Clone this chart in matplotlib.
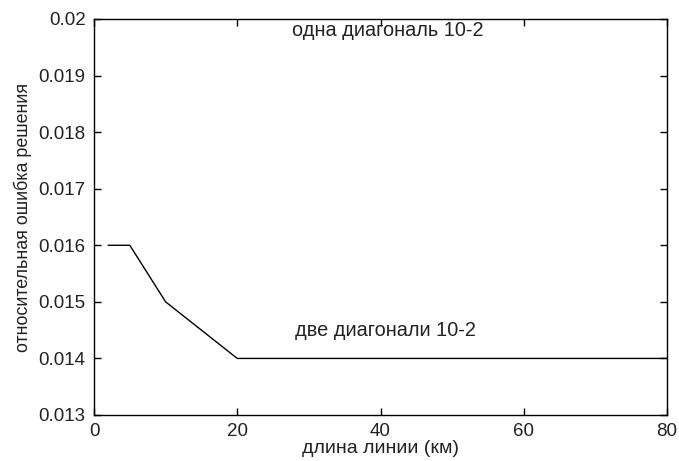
import matplotlib.pyplot as plt
from matplotlib.ticker import FuncFormatter

# line length (km) vs. relative solution error
length_km = [2, 5, 10, 20, 30, 40, 50, 60, 70, 80]
rel_error = [0.016, 0.016, 0.015, 0.014, 0.014, 0.014, 0.014, 0.014, 0.014, 0.014]

x_ticks = [0, 20, 40, 60, 80]
y_ticks = [0.013, 0.014, 0.015, 0.016, 0.017, 0.018, 0.019, 0.02]

plt.rcParams['font.family'] = ['Liberation Sans', 'DejaVu Sans']

fig = plt.figure(figsize=(6.79, 4.61), dpi=100)
ax = fig.add_axes([94 / 679, 1 - 415 / 461, 573 / 679, 396 / 461])

ax.plot(length_km, rel_error, color='black', linewidth=1)

ax.text(27.6, 0.0198, 'одна диагональ 10-2', fontsize=14.3, va='center', ha='left',
        color='#222222')
ax.text(28.1, 0.0145, 'две диагонали 10-2', fontsize=14.3, va='center', ha='left',
        color='#222222')

ax.set_xlim(0, 80)
ax.set_ylim(0.013, 0.02)
ax.set_xticks(x_ticks)
ax.set_yticks(y_ticks)
ax.yaxis.set_major_formatter(FuncFormatter(lambda v, p: '%g' % round(v, 4)))

ax.tick_params(direction='in', length=5, width=1, top=True, right=True,
               labelsize=13.5, pad=6, labelcolor='#222222')
for s in ax.spines.values():
    s.set_linewidth(1)

ax.set_xlabel('длина линии (км)', fontsize=14, labelpad=0, color='#222222')
ax.set_ylabel('относительная ошибка решения', fontsize=12.9, labelpad=5, color='#222222')

fig.savefig('out.png', dpi=100)
